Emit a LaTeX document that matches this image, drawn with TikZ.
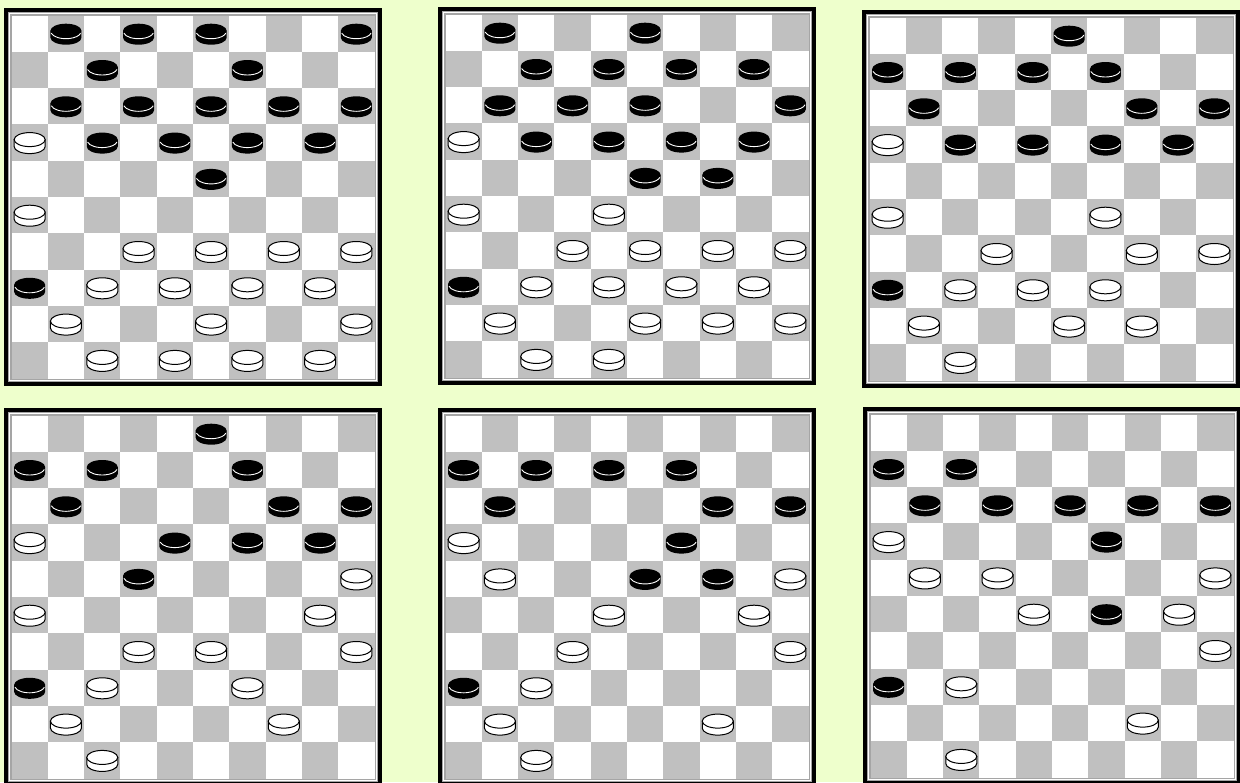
\documentclass[tikz,border=0pt]{standalone}
\definecolor{pageBg}{RGB}{238,255,204}
\definecolor{darkSq}{RGB}{192,192,192}
\definecolor{frameGray}{RGB}{165,165,165}
\usepackage{tikz}

% one black man, #1 = column, #2 = row
\newcommand{\manB}[2]{%
  \pgfmathsetmacro{\pcx}{25.65+36.3*#1}%
  \pgfmathsetmacro{\pcy}{26.2+36.3*#2}%
  \fill[black] (\pcx-15.5,\pcy-3.5) -- (\pcx-15.5,\pcy+3.5)
    arc[start angle=180, end angle=0, x radius=15.5, y radius=7] -- (\pcx+15.5,\pcy-3.5) -- cycle;
  \fill[black] (\pcx,\pcy-3.5) ellipse [x radius=15.5, y radius=7];
  \draw[white, line width=0.45pt] (\pcx,\pcy-2.5) ++(168:15 and 7)
    arc[start angle=168, end angle=12, x radius=15, y radius=7];
}
% one white man
\newcommand{\manW}[2]{%
  \pgfmathsetmacro{\pcx}{25.65+36.3*#1}%
  \pgfmathsetmacro{\pcy}{26.2+36.3*#2}%
  \filldraw[fill=white, draw=black, line width=0.5pt] (\pcx-15.5,\pcy-3.5) -- (\pcx-15.5,\pcy+3.5)
    arc[start angle=180, end angle=0, x radius=15.5, y radius=7] -- (\pcx+15.5,\pcy-3.5) -- cycle;
  \filldraw[fill=white, draw=black, line width=0.5pt] (\pcx,\pcy-3.5) ellipse [x radius=15.5, y radius=7];
}
% board at (#1,#2), black men #3, white men #4
\newcommand{\drawboard}[4]{%
  \begin{scope}[shift={(#1,#2)}]
    \fill[black] (0,0) rectangle (378,378);
    \fill[frameGray] (4,4) rectangle (374,374);
    \fill[white] (5.2,5.2) rectangle (372.8,372.8);
    \fill[frameGray] (6.4,6.4) rectangle (371.6,371.6);
    \fill[white] (7.5,7.5) rectangle (370.5,370.5);
    \foreach \r in {0,...,9}
      \foreach \c in {0,...,9} {
        \pgfmathtruncatemacro{\sqodd}{mod(\r+\c,2)}
        \ifnum\sqodd=1
          \fill[darkSq] (7.5+36.3*\c,7.5+36.3*\r) rectangle ++(36.3,36.3);
        \fi
      }
    \foreach \c/\r in {#3} {\manB{\c}{\r}}
    \foreach \c/\r in {#4} {\manW{\c}{\r}}
  \end{scope}}

\begin{document}
\begin{tikzpicture}[x=0.5pt, y=-0.5pt]
  \fill[pageBg] (0,0) rectangle (1240,782);
  \useasboundingbox (0,0) rectangle (1240,782);
  \clip (0,0) rectangle (1240,782);

  % board 1
  \drawboard{4}{8}
    {1/0,3/0,5/0,9/0,2/1,6/1,1/2,3/2,5/2,7/2,9/2,2/3,4/3,6/3,8/3,5/4,0/7}
    {0/3,0/5,3/6,5/6,7/6,9/6,2/7,4/7,6/7,8/7,1/8,5/8,9/8,2/9,4/9,6/9,8/9}

  % board 2
  \drawboard{438}{7}
    {1/0,5/0,2/1,4/1,6/1,8/1,1/2,3/2,5/2,9/2,2/3,4/3,6/3,8/3,5/4,7/4,0/7}
    {0/3,0/5,4/5,3/6,5/6,7/6,9/6,2/7,4/7,6/7,8/7,1/8,5/8,7/8,9/8,2/9,4/9}

  % board 3
  \drawboard{862}{10}
    {5/0,0/1,2/1,4/1,6/1,1/2,7/2,9/2,2/3,4/3,6/3,8/3,0/7}
    {0/3,0/5,6/5,3/6,7/6,9/6,2/7,4/7,6/7,1/8,5/8,7/8,2/9}

  % board 4
  \drawboard{4}{408}
    {5/0,0/1,2/1,6/1,1/2,7/2,9/2,4/3,6/3,8/3,3/4,0/7}
    {0/3,9/4,0/5,8/5,3/6,5/6,9/6,2/7,6/7,1/8,7/8,2/9}

  % board 5
  \drawboard{438}{408}
    {0/1,2/1,4/1,6/1,1/2,7/2,9/2,6/3,5/4,7/4,0/7}
    {0/3,1/4,9/4,4/5,8/5,3/6,9/6,2/7,1/8,7/8,2/9}

  % board 6
  \drawboard{863}{407}
    {0/1,2/1,1/2,3/2,5/2,7/2,9/2,6/3,6/5,0/7}
    {0/3,1/4,3/4,9/4,4/5,8/5,9/6,2/7,7/8,2/9}
\end{tikzpicture}
\end{document}
